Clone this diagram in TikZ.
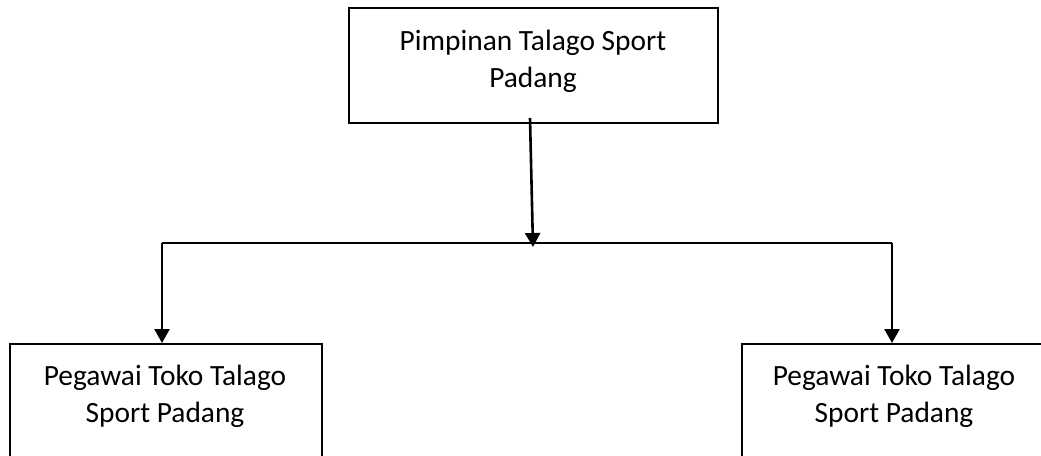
\documentclass[tikz,border=0pt]{standalone}
\usepackage{fontspec}
\setmainfont{Carlito}
\usetikzlibrary{arrows.meta}
\begin{document}
\begin{tikzpicture}[x=1pt,y=-1pt,
  box/.style={draw=black,line width=2.4pt,rectangle,inner sep=0pt},
  lbl/.style={align=center,font=\fontsize{29.4}{37}\selectfont,inner sep=0pt},
  conn/.style={line width=2.6pt},
  arr/.style={conn,-{Triangle[width=15pt,length=14pt]}}]
\useasboundingbox (0,0) rectangle (1041,455);
% boxes
\node[box,minimum width=369pt,minimum height=115pt] (top) at (533.5,65.5) {};
\node[lbl] (toptext) at (533,61.5) {Pimpinan Talago Sport\\Padang};
\node[box,anchor=north west,minimum width=312pt,minimum height=160pt] (left) at (9,343) {};
\node[lbl] (lefttext) at (165,396.5) {Pegawai Toko Talago\\Sport Padang};
\node[box,anchor=north west,minimum width=306pt,minimum height=160pt] (right) at (741,343) {};
\node[lbl] (righttext) at (894,396.5) {Pegawai Toko Talago\\Sport Padang};
% connectors
\coordinate (s) at (530,118);
\coordinate (m) at (533,247);
\coordinate (hl) at (162,243);
\coordinate (hr) at (892,243);
\coordinate (lt) at (162,343);
\coordinate (rt) at (892,343);
\draw[arr] (s) -- (m);
\draw[conn] (hl) -- (hr);
\draw[arr] (hl) -- (lt);
\draw[arr] (hr) -- (rt);
\end{tikzpicture}
\end{document}
